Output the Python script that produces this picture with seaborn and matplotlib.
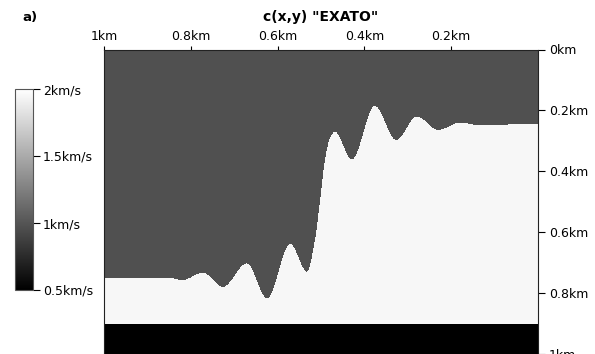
import numpy as np
import pandas as pd
import matplotlib
matplotlib.use("Agg")
import matplotlib.pyplot as plt
import seaborn as sns

# Interface between the upper layer and the fast layer: (distance km, depth km)
interface_x = [1.0, 0.956, 0.894, 0.848, 0.820, 0.772, 0.726, 0.671, 0.624, 0.571,
               0.532, 0.514, 0.502, 0.491, 0.479, 0.468, 0.429, 0.376, 0.327, 0.279,
               0.230, 0.180, 0.134, 0.065, 0.0]
interface_z = [0.749, 0.750, 0.749, 0.750, 0.757, 0.733, 0.779, 0.702, 0.817, 0.638,
               0.729, 0.625, 0.493, 0.362, 0.289, 0.269, 0.360, 0.184, 0.296, 0.219,
               0.263, 0.239, 0.247, 0.245, 0.244]

# Layer velocities (km/s) and depth of the bottom layer (km)
v_top = 0.97
v_mid = 1.95
v_bottom = 0.5
z_bottom = 0.9

x_ticks = [1.0, 0.8, 0.6, 0.4, 0.2]
x_ticklabels = ["1km", "0.8km", "0.6km", "0.4km", "0.2km"]
z_ticks = [0.0, 0.2, 0.4, 0.6, 0.8, 1.0]
z_ticklabels = ["0km", "0.2km", "0.4km", "0.6km", "0.8km", "1km"]
cbar_ticks = [0.5, 1.0, 1.5, 2.0]
cbar_ticklabels = ["0.5km/s", "1km/s", "1.5km/s", "2km/s"]


def pchip(xk, yk, xq):
    """Shape-preserving piecewise cubic Hermite curve through the nodes."""
    xk = np.asarray(xk, float)
    yk = np.asarray(yk, float)
    order = np.argsort(xk)
    xk, yk = xk[order], yk[order]
    h = np.diff(xk)
    d = np.diff(yk) / h
    m = np.zeros_like(yk)
    for i in range(1, len(xk) - 1):
        if d[i - 1] * d[i] > 0:
            w1 = 2 * h[i] + h[i - 1]
            w2 = h[i] + 2 * h[i - 1]
            m[i] = (w1 + w2) / (w1 / d[i - 1] + w2 / d[i])
    m[0], m[-1] = d[0], d[-1]
    idx = np.clip(np.searchsorted(xk, xq) - 1, 0, len(h) - 1)
    t = (xq - xk[idx]) / h[idx]
    h00 = 2 * t**3 - 3 * t**2 + 1
    h10 = t**3 - 2 * t**2 + t
    h01 = -2 * t**3 + 3 * t**2
    h11 = t**3 - t**2
    return (h00 * yk[idx] + h10 * h[idx] * m[idx]
            + h01 * yk[idx + 1] + h11 * h[idx] * m[idx + 1])


# Velocity grid c(x, z)
nx, nz = 434, 304
xs = 1.0 - (np.arange(nx) + 0.5) / nx
zs = (np.arange(nz) + 0.5) / nz
z_if = pchip(interface_x, interface_z, xs)
Z = zs[:, None] * np.ones((1, nx))
vel = np.where(Z < z_if[None, :], v_top, v_mid)
vel = np.where(Z >= z_bottom, v_bottom, vel)
df = pd.DataFrame(vel, index=np.round(zs, 4), columns=np.round(xs, 4))

sns.set_style("ticks")
plt.rcParams["font.family"] = ["DejaVu Sans"]
plt.rcParams["font.size"] = 9
plt.rcParams["text.color"] = "black"
plt.rcParams["xtick.color"] = "black"
plt.rcParams["ytick.color"] = "black"
plt.rcParams["xtick.labelcolor"] = "black"
plt.rcParams["ytick.labelcolor"] = "black"

fig = plt.figure(figsize=(5.95, 3.54), dpi=100)
ax = fig.add_axes([104 / 595, 0.0, 434 / 595, (354 - 49.5) / 354])
cax = fig.add_axes([15 / 595, 1 - 290 / 354, 18 / 595, 201 / 354])

sns.heatmap(df, ax=ax, cbar_ax=cax, cmap="gray", vmin=0.5, vmax=2.0,
            xticklabels=False, yticklabels=False, rasterized=True,
            cbar_kws={"ticks": cbar_ticks})

for sp in ax.spines.values():
    sp.set_visible(True)
    sp.set_color("#222222")
    sp.set_linewidth(0.8)

ax.xaxis.tick_top()
ax.set_xticks([(1 - v) * nx for v in x_ticks])
ax.set_xticklabels(x_ticklabels, fontsize=9, color="black")
ax.yaxis.tick_right()
ax.set_yticks([v * nz for v in z_ticks])
ax.set_yticklabels(z_ticklabels, fontsize=9, rotation=0, color="black")
ax.tick_params(axis="x", top=True, bottom=False, length=3, width=0.8, pad=2,
               color="black", labelcolor="black")
ax.tick_params(axis="y", right=True, left=False, length=5, width=0.8, pad=3,
               color="black", labelcolor="black")
ax.set_xlabel("")
ax.set_ylabel("")

cbar = ax.collections[0].colorbar
cbar.set_ticks(cbar_ticks)
cbar.set_ticklabels(cbar_ticklabels)
cbar.ax.tick_params(length=5, width=0.8, labelsize=9, pad=2, color="black",
                    labelcolor="black")
cbar.outline.set_edgecolor("#555555")
cbar.outline.set_linewidth(0.8)

fig.text(321 / 595, 1 - 17 / 354, 'c(x,y) "EXATO"', ha="center", va="center",
         fontsize=10, fontweight="bold", color="black")
fig.text(22 / 595, 1 - 17 / 354, "a)", ha="left", va="center",
         fontsize=9.5, fontweight="bold", color="black")

fig.savefig("out.png", dpi=100)
